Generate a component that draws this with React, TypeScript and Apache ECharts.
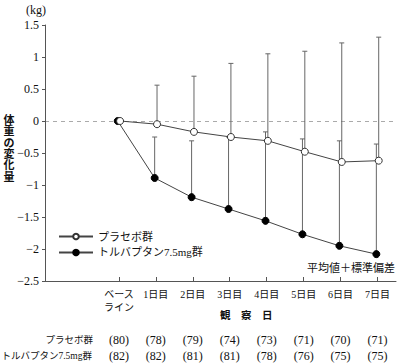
import React, { useEffect, useRef } from "react";
import * as echarts from "echarts";

const categories = ["ベース\nライン", "1日目", "2日目", "3日目", "4日目", "5日目", "6日目", "7日目"];
const dayIndex = [0, 1, 2, 3, 4, 5, 6, 7];
const placeboMean = [0, -0.05, -0.17, -0.25, -0.31, -0.48, -0.64, -0.62];
const placeboMeanPlusSD = [null, 0.56, 0.7, 0.9, 1.05, 1.09, 1.22, 1.31];
const tolvaptanMean = [0, -0.89, -1.19, -1.375, -1.56, -1.77, -1.95, -2.08];
const tolvaptanMeanPlusSD = [null, -0.25, -0.31, -0.25, -0.17, -0.28, -0.31, -0.36];
const placeboN = [80, 78, 79, 74, 73, 71, 70, 71];
const tolvaptanN = [82, 82, 81, 81, 78, 76, 75, 75];
const yTicks = [-2.5, -2, -1.5, -1, -0.5, 0, 0.5, 1, 1.5];
const yAxisTitleChars = ["体", "重", "の", "変", "化", "量"];

const SERIF = "'Liberation Serif', 'Noto Sans CJK JP', serif";
const JP = "'Liberation Serif', 'Noto Sans CJK JP', sans-serif";

function errorBarRender(params: any, api: any) {
  const x = api.value(0);
  const y0 = api.value(1);
  const y1 = api.value(2);
  const p0 = api.coord([x, y0]);
  const p1 = api.coord([x, y1]);
  const style = { stroke: "#666", lineWidth: 1 };
  return {
    type: "group",
    children: [
      { type: "line", shape: { x1: p0[0], y1: p0[1], x2: p1[0], y2: p1[1] }, style },
      { type: "line", shape: { x1: p1[0] - 2.5, y1: p1[1], x2: p1[0] + 2.5, y2: p1[1] }, style },
    ],
  };
}

export default function App() {
  const ref = useRef<HTMLDivElement>(null);
  useEffect(() => {
    if (!ref.current) return;
    const chart = echarts.init(ref.current, undefined, { renderer: "svg" });
    const placeboPts = dayIndex.map((d, i) => [d, placeboMean[i]]);
    const tolvaptanPts = dayIndex.map((d, i) => [d, tolvaptanMean[i]]);
    const placeboBars = dayIndex
      .filter((d, i) => placeboMeanPlusSD[i] !== null)
      .map((d) => [d, placeboMean[d], placeboMeanPlusSD[d]]);
    const tolvaptanBars = dayIndex
      .filter((d, i) => tolvaptanMeanPlusSD[i] !== null)
      .map((d) => [d, tolvaptanMean[d], tolvaptanMeanPlusSD[d]]);

    const baseX = { min: -2, max: 7.5 };
    chart.setOption({
      animation: false,
      grid: { left: 45, right: 4, top: 25, bottom: 83 },
      legend: {
        data: ["プラセボ群", "トルバプタン7.5mg群"],
        orient: "vertical",
        left: 53,
        top: 226,
        itemWidth: 34,
        itemHeight: 7,
        itemGap: 5,
        textStyle: { fontFamily: JP, fontSize: 11, color: "#111" },
      },
      xAxis: [
        {
          type: "value",
          ...baseX,
          axisLine: { show: true, onZero: false, lineStyle: { color: "#555" } },
          axisTick: { show: true, inside: true, length: 4, lineStyle: { color: "#555" }, customValues: dayIndex },
          axisLabel: {
            customValues: dayIndex,
            formatter: (v: number) => categories[Math.round(v)] ?? "",
            fontFamily: JP,
            fontSize: 10,
            color: "#111",
            margin: 7,
            lineHeight: 13,
          },
          splitLine: { show: false },
        },
        { type: "value", min: -2.032, max: 7.468, show: false, axisLine: { onZero: false } },
        { type: "value", min: -1.968, max: 7.532, show: false, axisLine: { onZero: false } },
        {
          type: "value",
          ...baseX,
          position: "bottom",
          offset: 50,
          axisLine: { show: false, onZero: false },
          axisTick: { show: false },
          splitLine: { show: false },
          axisLabel: {
            customValues: dayIndex,
            formatter: (v: number) => `(${placeboN[Math.round(v)]})`,
            fontFamily: SERIF,
            fontSize: 12,
            color: "#111",
            margin: 3,
          },
        },
        {
          type: "value",
          ...baseX,
          position: "bottom",
          offset: 66,
          axisLine: { show: false, onZero: false },
          axisTick: { show: false },
          splitLine: { show: false },
          axisLabel: {
            customValues: dayIndex,
            formatter: (v: number) => `(${tolvaptanN[Math.round(v)]})`,
            fontFamily: SERIF,
            fontSize: 12,
            color: "#111",
            margin: 3,
          },
        },
      ],
      yAxis: {
        type: "value",
        min: -2.5,
        max: 1.5,
        interval: 0.5,
        axisLine: { show: true, onZero: false, lineStyle: { color: "#555" } },
        axisTick: { show: true, length: 3, lineStyle: { color: "#555" } },
        splitLine: { show: false },
        axisLabel: {
          customValues: yTicks,
          formatter: (v: number) => (v < 0 ? "\u2212" + String(Math.abs(v)) : String(v)),
          fontFamily: SERIF,
          fontSize: 12,
          color: "#111",
          margin: 6,
        },
      },
      series: [
        {
          type: "custom",
          name: "placeboSD",
          xAxisIndex: 1,
          renderItem: errorBarRender,
          encode: { x: 0, y: [1, 2] },
          data: placeboBars,
          z: 1,
          silent: true,
        },
        {
          type: "custom",
          name: "tolvaptanSD",
          xAxisIndex: 2,
          renderItem: errorBarRender,
          encode: { x: 0, y: [1, 2] },
          data: tolvaptanBars,
          z: 1,
          silent: true,
        },
        {
          type: "line",
          name: "トルバプタン7.5mg群",
          xAxisIndex: 2,
          data: tolvaptanPts,
          symbol: "circle",
          symbolSize: 7,
          itemStyle: { color: "#000", borderColor: "#000", borderWidth: 1 },
          lineStyle: { color: "#444", width: 1 },
          z: 3,
        },
        {
          type: "line",
          name: "プラセボ群",
          xAxisIndex: 1,
          data: placeboPts,
          symbol: "circle",
          symbolSize: 7,
          itemStyle: { color: "#fff", borderColor: "#333", borderWidth: 1 },
          lineStyle: { color: "#444", width: 1 },
          z: 4,
          markLine: {
            silent: true,
            symbol: "none",
            label: { show: false },
            lineStyle: { color: "#aaaaaa", type: [4, 4], width: 1, opacity: 1 },
            emphasis: { disabled: true },
            data: [{ yAxis: 0 }],
            z: 0,
          },
        },
      ],
      graphic: [
        {
          type: "text",
          left: 26,
          top: 4,
          style: { text: "(kg)", fontFamily: SERIF, fontSize: 12, fill: "#111" },
        },
        ...yAxisTitleChars.map((ch, i) => ({
          type: "text",
          x: 9,
          y: 120 + i * 11.3,
          style: {
            text: ch,
            fontFamily: JP,
            fontSize: 11,
            fontWeight: "bold",
            fill: "#111",
            align: "center",
            verticalAlign: "middle",
          },
        })),
        {
          type: "text",
          right: 5,
          top: 262,
          style: { text: "平均値＋標準偏差", fontFamily: JP, fontSize: 11, fill: "#111" },
        },
        {
          type: "text",
          left: 220,
          top: 310,
          style: { text: "観　察　日", fontFamily: JP, fontSize: 10.5, fontWeight: "bold", fill: "#111" },
        },
        {
          type: "text",
          x: 93,
          y: 340,
          style: { text: "プラセボ群", fontFamily: JP, fontSize: 9.5, fill: "#111", align: "right", verticalAlign: "middle" },
        },
        {
          type: "text",
          x: 92,
          y: 356,
          style: { text: "トルバプタン7.5mg群", fontFamily: JP, fontSize: 9.5, fill: "#111", align: "right", verticalAlign: "middle" },
        },
      ],
    });
    return () => chart.dispose();
  }, []);
  return <div ref={ref} style={{ position: "fixed", left: 0, top: 0, width: 400, height: 364, background: "#fff" }} />;
}
